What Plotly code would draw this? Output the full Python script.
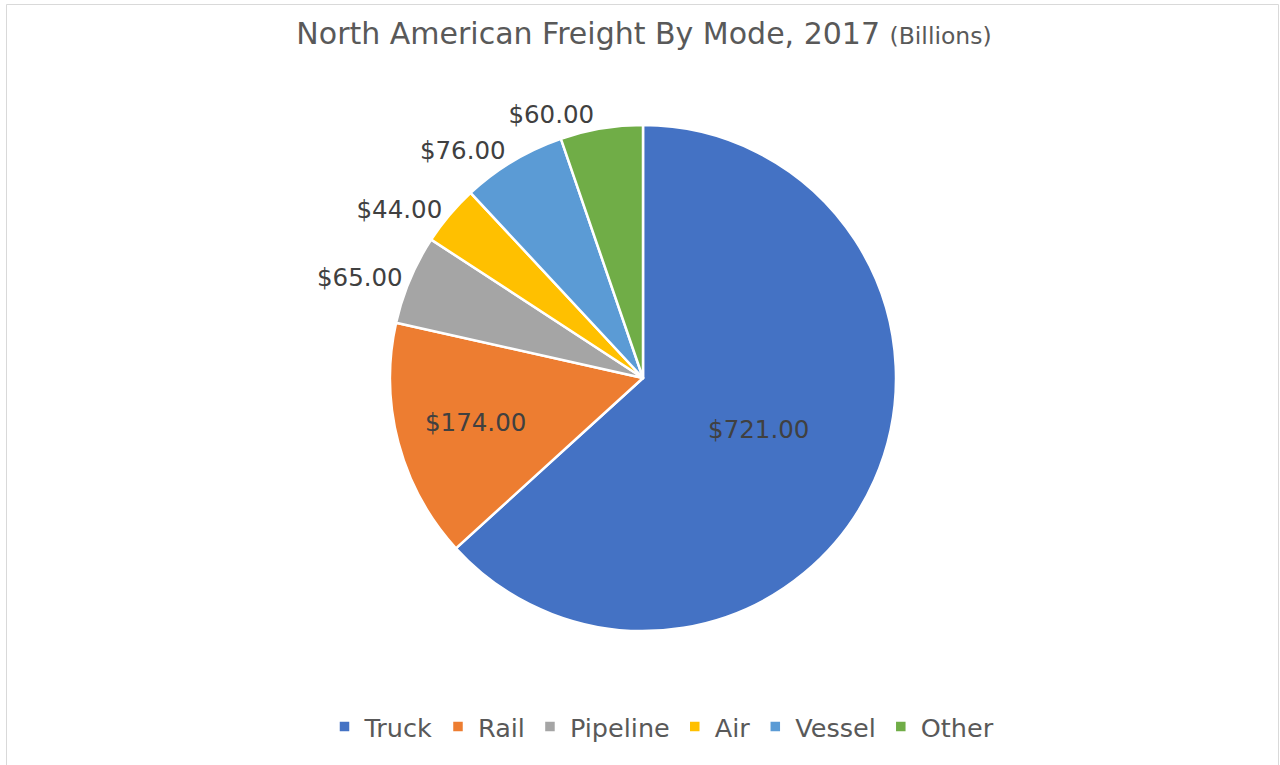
import plotly.graph_objects as go

modes = ["Truck", "Rail", "Pipeline", "Air", "Vessel", "Other"]
values = [721, 174, 65, 44, 76, 60]
colors = ["#4472C4", "#ED7D31", "#A5A5A5", "#FFC000", "#5B9BD5", "#70AD47"]
label_pos = ["inside", "inside", "outside", "outside", "outside", "outside"]
title_text = "North American Freight By Mode, 2017"
title_unit = "(Billions)"

W, H = 1280, 765
FONT = "DejaVu Sans"
TXT = "#595959"
LBL = "#404040"

fig = go.Figure(
    go.Pie(
        labels=modes,
        values=values,
        sort=False,
        direction="clockwise",
        rotation=0,
        marker=dict(colors=colors, line=dict(color="white", width=2.5)),
        texttemplate="$%{value:.2f}",
        textposition=label_pos,
        insidetextorientation="horizontal",
        textfont=dict(family=FONT, size=24.5, color=LBL),
        outsidetextfont=dict(family=FONT, size=24.5, color=LBL),
        hoverinfo="label+value",
        automargin=False,
        domain=dict(x=[390 / W, 896 / W], y=[1 - 631 / H, 1 - 125 / H]),
    )
)

fig.update_layout(
    width=W,
    height=H,
    margin=dict(l=0, r=0, t=0, b=0),
    paper_bgcolor="white",
    plot_bgcolor="white",
    title=dict(
        text=f"{title_text} <span style='font-size:23.5px'>{title_unit}</span>",
        x=644 / W,
        xanchor="center",
        xref="paper",
        y=1 - 33 / H,
        yanchor="middle",
        yref="paper",
        font=dict(family=FONT, size=30, color=TXT),
    ),
    legend=dict(
        orientation="h",
        x=662 / W,
        xanchor="center",
        y=1 - 727 / H,
        yanchor="middle",
        font=dict(family=FONT, size=25.5, color=TXT),
        itemclick=False,
    ),
    shapes=[
        dict(
            type="rect",
            xref="paper",
            yref="paper",
            x0=6.5 / W,
            x1=1278.5 / W,
            y0=-0.02,
            y1=1 - 4.5 / H,
            line=dict(color="#D9D9D9", width=1),
            fillcolor="rgba(0,0,0,0)",
        )
    ],
)

fig.write_html("out.html")
